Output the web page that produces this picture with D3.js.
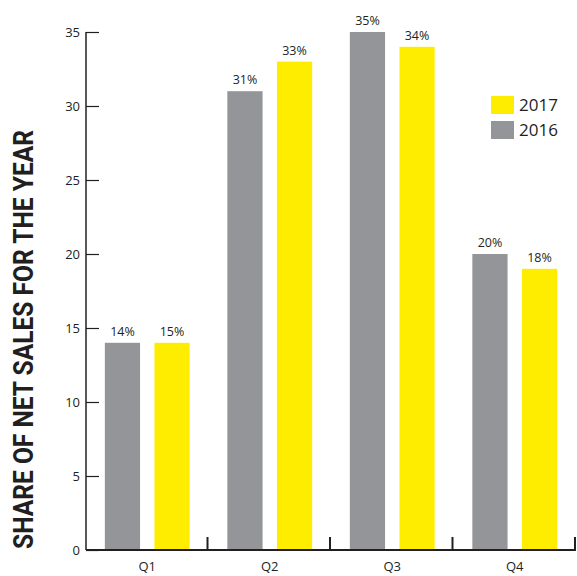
<!DOCTYPE html>
<html>
<head>
<meta charset="utf-8">
<script src="https://cdn.jsdelivr.net/npm/d3@7"></script>
<style>
  body { margin: 0; background: #fff; }
  text { font-family: "Open Sans", "Noto Sans", sans-serif; fill: #231f20; }
</style>
</head>
<body>
<script>
// data
var quarters = ["Q1", "Q2", "Q3", "Q4"];
var series = ["2016", "2017"];
var values2016 = [14, 31, 35, 20];
var values2017 = [14, 33, 34, 19];
var labels2016 = ["14%", "31%", "35%", "20%"];
var labels2017 = ["15%", "33%", "34%", "18%"];
var yTicks = [0, 5, 10, 15, 20, 25, 30, 35];

(function() {
  var W = 577, H = 576;
  var mLeft = 86, mRight = 576, mTop = 32, mBottom = 550;

  var colors = { "2016": "#939598", "2017": "#ffed00" };

  var svg = d3.select("body").append("svg")
    .attr("width", W)
    .attr("height", H);

  var x = d3.scaleBand()
    .domain(quarters)
    .range([mLeft, mRight]);

  var inner = d3.scaleBand()
    .domain(series)
    .range([0, x.bandwidth()])
    .paddingInner(0.29)
    .paddingOuter(0.38);

  var y = d3.scaleLinear()
    .domain([0, 35])
    .range([mBottom, mTop]);

  // rows for the bars
  var rows = [];
  quarters.forEach(function(q, i) {
    rows.push({ q: q, s: "2016", v: values2016[i], label: labels2016[i] });
    rows.push({ q: q, s: "2017", v: values2017[i], label: labels2017[i] });
  });

  // bars
  svg.selectAll("rect.bar")
    .data(rows)
    .enter().append("rect")
    .attr("class", "bar")
    .attr("x", function(d) { return x(d.q) + inner(d.s); })
    .attr("y", function(d) { return y(d.v); })
    .attr("width", inner.bandwidth())
    .attr("height", function(d) { return mBottom - y(d.v); })
    .attr("fill", function(d) { return colors[d.s]; });

  // value labels
  svg.selectAll("text.val")
    .data(rows)
    .enter().append("text")
    .attr("class", "val")
    .attr("x", function(d) { return x(d.q) + inner(d.s) + inner.bandwidth() / 2; })
    .attr("y", function(d) { return y(d.v) - 7; })
    .attr("text-anchor", "middle")
    .style("font-size", "12.5px")
    .text(function(d) { return d.label; });

  // y axis, ticks pointing inward
  var yAxis = d3.axisRight(y)
    .tickValues(yTicks)
    .tickSize(13)
    .tickFormat("");
  var yg = svg.append("g")
    .attr("transform", "translate(" + mLeft + ",0)")
    .call(yAxis);
  yg.select(".domain").remove();
  yg.selectAll(".tick line").attr("stroke", "#231f20").attr("stroke-width", 1.2);
  svg.append("line")
    .attr("x1", mLeft).attr("x2", mLeft)
    .attr("y1", y(35)).attr("y2", mBottom)
    .attr("stroke", "#231f20")
    .attr("stroke-width", 1.5);

  svg.selectAll("text.ytick")
    .data(yTicks)
    .enter().append("text")
    .attr("class", "ytick")
    .attr("x", mLeft - 6)
    .attr("y", function(d) { return y(d) + 5; })
    .attr("text-anchor", "end")
    .style("font-size", "13px")
    .text(function(d) { return d; });

  // x axis
  svg.append("line")
    .attr("x1", mLeft).attr("x2", mRight)
    .attr("y1", mBottom).attr("y2", mBottom)
    .attr("stroke", "#231f20")
    .attr("stroke-width", 2);

  svg.selectAll("line.sep")
    .data(quarters)
    .enter().append("line")
    .attr("class", "sep")
    .attr("x1", function(d) { return x(d) + x.bandwidth() - 1; })
    .attr("x2", function(d) { return x(d) + x.bandwidth() - 1; })
    .attr("y1", mBottom)
    .attr("y2", mBottom - 13)
    .attr("stroke", "#231f20")
    .attr("stroke-width", 2);

  svg.selectAll("text.xlab")
    .data(quarters)
    .enter().append("text")
    .attr("class", "xlab")
    .attr("x", function(d) { return x(d) + x.bandwidth() / 2; })
    .attr("y", 571)
    .attr("text-anchor", "middle")
    .style("font-size", "13px")
    .text(function(d) { return d; });

  // y title
  svg.append("text")
    .attr("transform", "translate(33," + 549 + ") rotate(-90)")
    .attr("text-anchor", "start")
    .attr("textLength", 419)
    .attr("lengthAdjust", "spacingAndGlyphs")
    .style("font-family", "Roboto, 'DejaVu Sans', sans-serif")
    .style("font-weight", "bold")
    .style("font-size", "28px")
    .text("SHARE OF NET SALES FOR THE YEAR");

  // legend
  var legendItems = ["2017", "2016"];
  var legend = svg.selectAll("g.legend")
    .data(legendItems)
    .enter().append("g")
    .attr("class", "legend")
    .attr("transform", function(d, i) { return "translate(491," + (96 + i * 25) + ")"; });

  legend.append("rect")
    .attr("width", 23)
    .attr("height", 18)
    .attr("fill", function(d) { return colors[d]; });

  legend.append("text")
    .attr("x", 28)
    .attr("y", 15)
    .style("font-size", "17px")
    .text(function(d) { return d; });
})();
</script>
</body>
</html>
